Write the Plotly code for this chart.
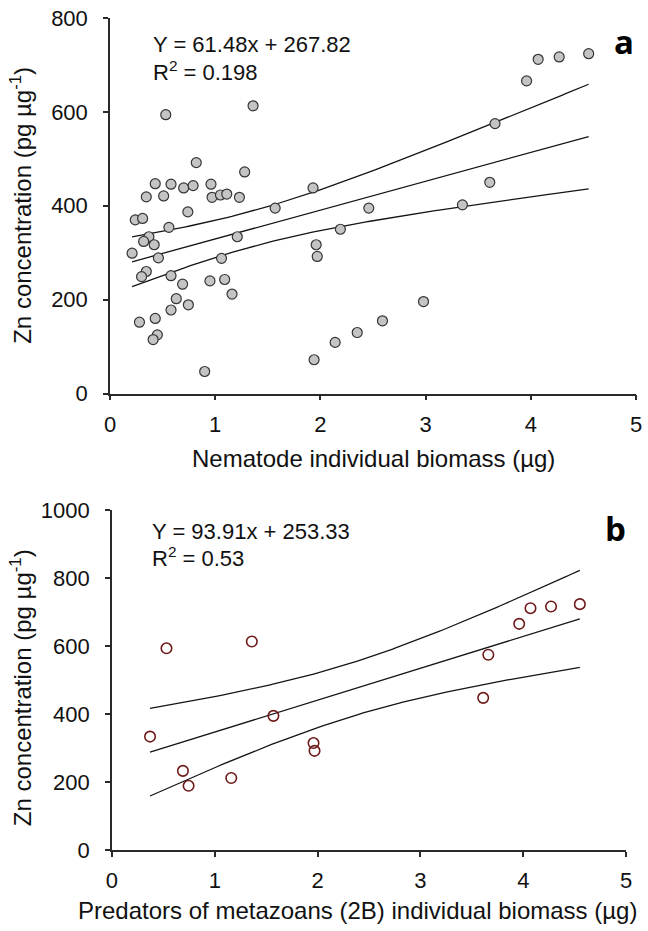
import numpy as np
import plotly.graph_objects as go

# Panel a: all nematodes
nema_biomass = [0.53, 1.36, 0.82, 1.28, 1.93, 0.43, 0.58, 0.70, 0.79, 0.96,
                0.345, 0.51, 0.97, 1.05, 1.11, 1.23, 0.24, 0.31, 0.74, 1.57,
                2.46, 0.56, 2.19, 0.37, 0.32, 0.42, 1.21, 0.21, 0.46, 1.06,
                1.96, 1.97, 0.345, 0.30, 0.58, 0.69, 0.95, 1.09, 1.16, 0.63,
                0.58, 0.745, 0.28, 0.43, 0.45, 0.41, 0.90, 1.94, 2.14, 2.35,
                3.35, 3.61, 2.59, 2.98, 3.66, 3.96, 4.07, 4.27, 4.55]
nema_zn = [594, 613, 492, 472, 438, 447, 446, 438, 443, 446,
           419, 421, 418, 423, 425, 418, 370, 373, 387, 395,
           395, 354, 350, 334, 324, 317, 334, 299, 289, 288,
           317, 292, 260, 249, 251, 233, 240, 243, 212, 202,
           178, 189, 152, 160, 125, 115, 47, 72, 109, 130,
           402, 450, 155, 196, 575, 666, 712, 717, 724]

# Panel b: predators of metazoans (2B)
pred_biomass = [0.37, 0.53, 0.69, 0.745, 1.16, 1.36, 1.57, 1.96, 1.97,
                3.61, 3.66, 3.96, 4.07, 4.27, 4.55]
pred_zn = [334, 594, 233, 189, 212, 614, 395, 315, 292,
           448, 575, 666, 712, 717, 724]

# Fitted regressions as reported
fit_a = dict(slope=61.48, intercept=267.82, r2="0.198", t=2.002)
fit_b = dict(slope=93.91, intercept=253.33, r2="0.53", t=2.160)

x_ticks = [0, 1, 2, 3, 4, 5]
y_ticks_a = [0, 200, 400, 600, 800]
y_ticks_b = [0, 200, 400, 600, 800, 1000]

W, H = 648, 931
ML, MR, MT, MB = 110, 6, 17, 81
PW, PH = W - ML - MR, H - MT - MB


def px(xp):
    return (xp - ML) / PW


def py(yp):
    return (H - MB - yp) / PH


def conf_band(x, y, slope, intercept, t):
    x = np.asarray(x, float)
    y = np.asarray(y, float)
    n = len(x)
    resid = y - (slope * x + intercept)
    s = np.sqrt(np.sum(resid ** 2) / (n - 2))
    xm = x.mean()
    sxx = np.sum((x - xm) ** 2)
    xs = np.linspace(x.min(), x.max(), 120)
    fit = slope * xs + intercept
    half = t * s * np.sqrt(1.0 / n + (xs - xm) ** 2 / sxx)
    return xs, fit, fit - half, fit + half


fig = go.Figure()

line_style = dict(color="#151515", width=1.3)

# panel a
xs, fit, lo, hi = conf_band(nema_biomass, nema_zn, fit_a["slope"], fit_a["intercept"], fit_a["t"])
for yy in (hi, fit, lo):
    fig.add_trace(go.Scatter(x=xs, y=yy, mode="lines", line=line_style,
                             xaxis="x", yaxis="y", hoverinfo="skip"))
fig.add_trace(go.Scatter(x=nema_biomass, y=nema_zn, mode="markers",
                         marker=dict(size=10, color="#c4c4c4",
                                     line=dict(color="#353535", width=1.2)),
                         xaxis="x", yaxis="y"))

# panel b
xs, fit, lo, hi = conf_band(pred_biomass, pred_zn, fit_b["slope"], fit_b["intercept"], fit_b["t"])
for yy in (hi, fit, lo):
    fig.add_trace(go.Scatter(x=xs, y=yy, mode="lines", line=line_style,
                             xaxis="x2", yaxis="y2", hoverinfo="skip"))
fig.add_trace(go.Scatter(x=pred_biomass, y=pred_zn, mode="markers",
                         marker=dict(size=10.5, symbol="circle-open", color="#6e1a1a",
                                     line=dict(color="#6e1a1a", width=1.6)),
                         xaxis="x2", yaxis="y2"))

FONT = "Liberation Sans, Arial, sans-serif"
tick_font = dict(family=FONT, size=22, color="#111111")
axis_common = dict(showline=True, linecolor="#2a2a2a", linewidth=1.5,
                   ticks="outside", ticklen=5, tickwidth=1.5, tickcolor="#2a2a2a",
                   showgrid=False, zeroline=False, tickfont=tick_font)

fig.update_layout(
    width=W, height=H,
    margin=dict(l=ML, r=MR, t=MT, b=MB),
    paper_bgcolor="white", plot_bgcolor="white",
    showlegend=False,
    xaxis=dict(domain=[0, 1], range=[0, 5], tickvals=x_ticks, anchor="y",
               ticklabelstandoff=5, **axis_common),
    yaxis=dict(domain=[py(393), 1], range=[0, 800], tickvals=y_ticks_a, anchor="x",
               ticklabelstandoff=11, **axis_common),
    xaxis2=dict(domain=[px(112), px(632)], range=[0, 5], tickvals=x_ticks, anchor="y2",
                ticklabelstandoff=5, **axis_common),
    yaxis2=dict(domain=[0, py(510)], range=[0, 1000], tickvals=y_ticks_b, anchor="x2",
                ticklabelstandoff=11, **axis_common),
)

txt = dict(family=FONT, size=22, color="#111111")
title_font = dict(family=FONT, size=24, color="#111111")
ann = []


def add_text(text, x, y, font, xanchor="left", yanchor="middle", angle=0):
    ann.append(dict(text=text, x=px(x), y=py(y), xref="paper", yref="paper",
                    xanchor=xanchor, yanchor=yanchor, showarrow=False,
                    font=font, textangle=angle))


# equations
add_text(f"Y = {fit_a['slope']:.2f}x + {fit_a['intercept']:.2f}", 151, 44, txt)
add_text(f"R<sup>2</sup> = {fit_a['r2']}", 151, 70, txt)
add_text(f"Y = {fit_b['slope']:.2f}x + {fit_b['intercept']:.2f}", 150, 531, txt)
add_text(f"R<sup>2</sup> = {fit_b['r2']}", 150, 557, txt)

# panel letters
letter_font = dict(family="Open Sans, Liberation Sans, sans-serif", size=33, color="#000000")
add_text("<b>a</b>", 630, 41, letter_font, xanchor="center")
add_text("<b>b</b>", 621, 528, letter_font, xanchor="center")

# axis titles
add_text("Nematode individual biomass (µg)", 376, 458, title_font, xanchor="center")
add_text("Predators of metazoans (2B) individual biomass (µg)", 360, 911, title_font, xanchor="center")
add_text("Zn concentration (pg µg<sup>-1</sup>)", 20, 205, title_font, xanchor="center", angle=-90)
add_text("Zn concentration (pg µg<sup>-1</sup>)", 20, 688, title_font, xanchor="center", angle=-90)

fig.update_layout(annotations=ann)

fig.write_html("out.html")
